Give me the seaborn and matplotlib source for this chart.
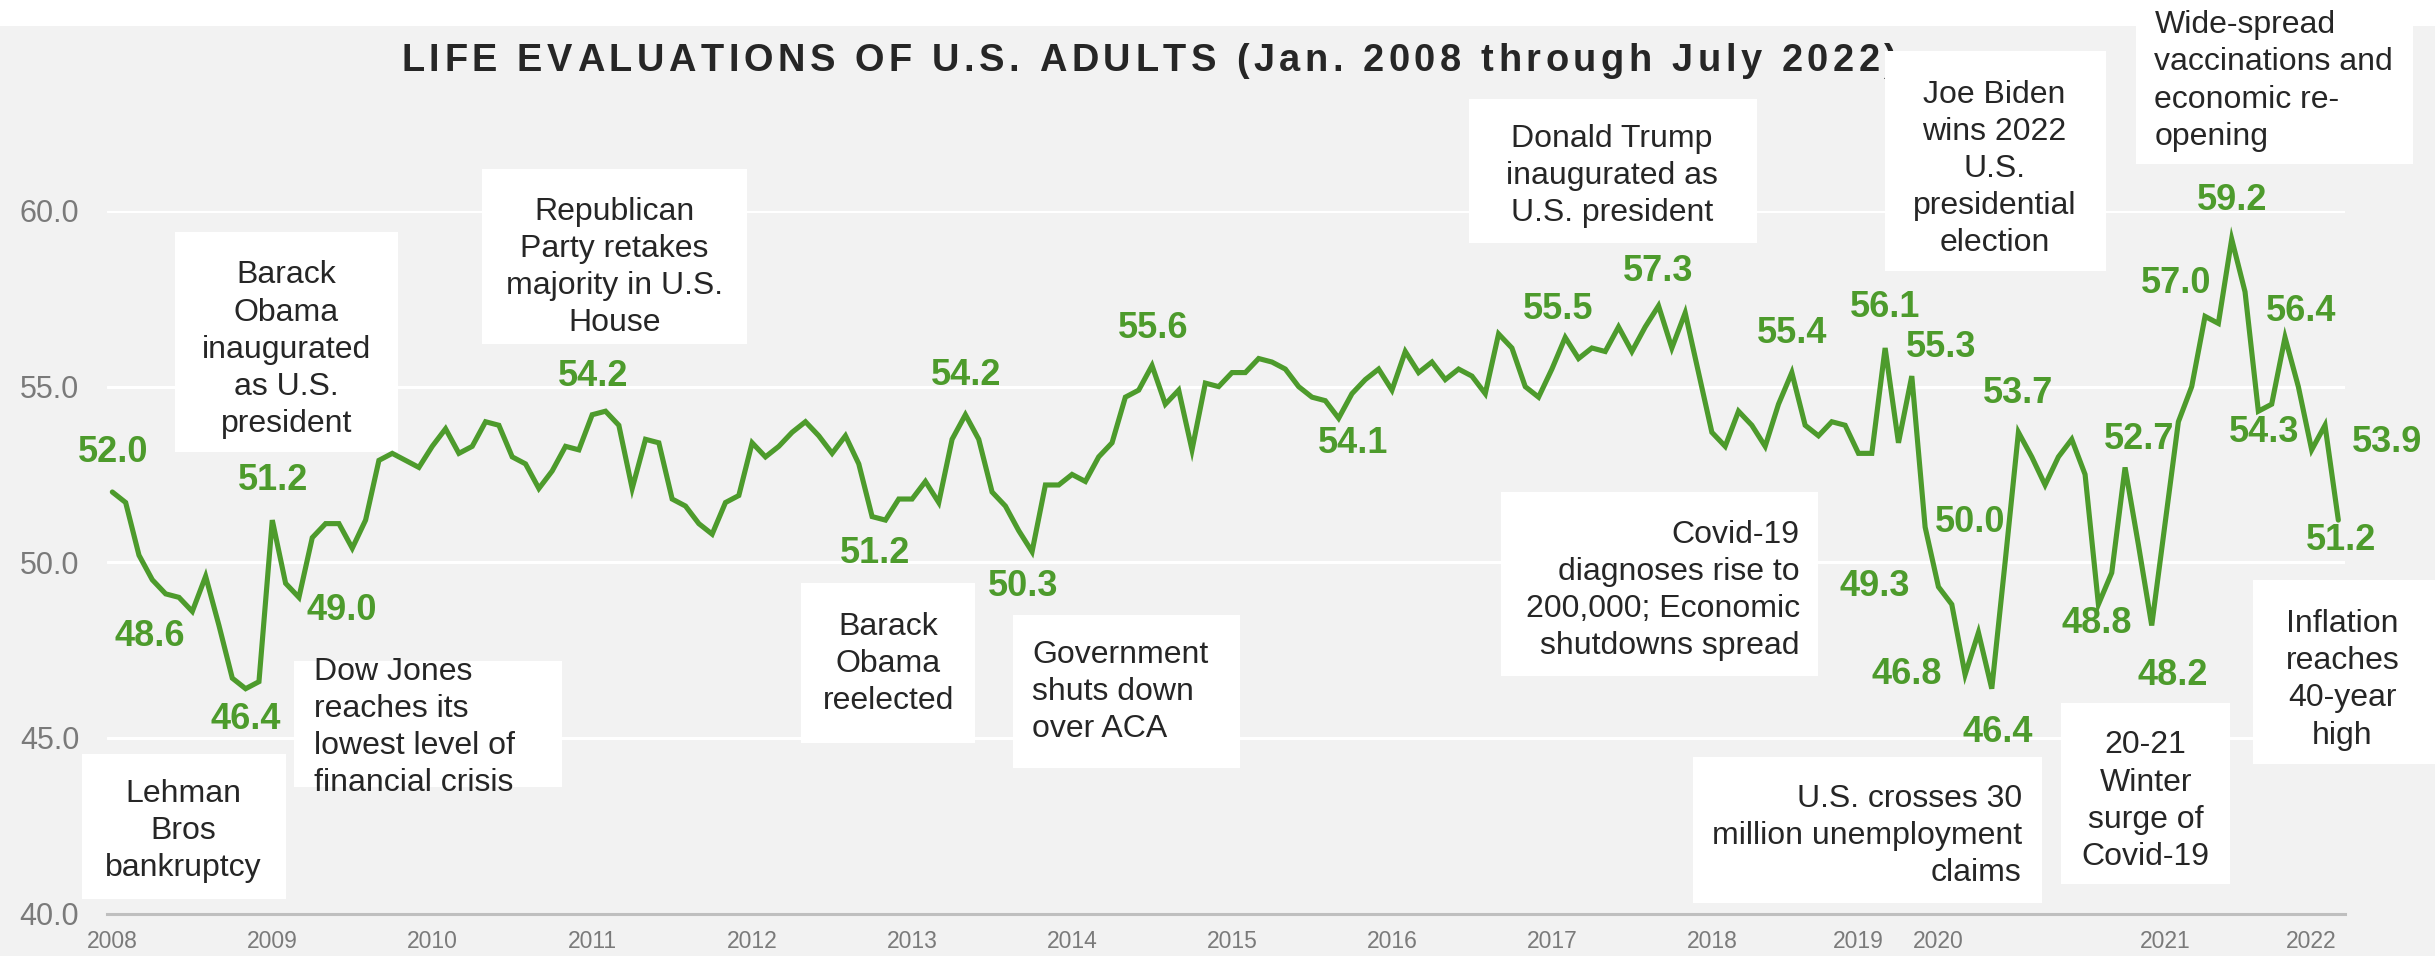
import numpy as np
import pandas as pd
import matplotlib
matplotlib.use("Agg")
import matplotlib.pyplot as plt
from matplotlib.patches import Rectangle
from matplotlib.transforms import IdentityTransform
import seaborn as sns

# Monthly index scores, 2008-2018
scores_2008 = [52.0, 51.7, 50.2, 49.5, 49.1, 49.0, 48.6, 49.6, 48.2, 46.7, 46.4, 46.6]
scores_2009 = [51.2, 49.4, 49.0, 50.7, 51.1, 51.1, 50.4, 51.2, 52.9, 53.1, 52.9, 52.7]
scores_2010 = [53.3, 53.8, 53.1, 53.3, 54.0, 53.9, 53.0, 52.8, 52.1, 52.6, 53.3, 53.2]
scores_2011 = [54.2, 54.3, 53.9, 52.1, 53.5, 53.4, 51.8, 51.6, 51.1, 50.8, 51.7, 51.9]
scores_2012 = [53.4, 53.0, 53.3, 53.7, 54.0, 53.6, 53.1, 53.6, 52.8, 51.3, 51.2, 51.8]
scores_2013 = [51.8, 52.3, 51.7, 53.5, 54.2, 53.5, 52.0, 51.6, 50.9, 50.3, 52.2, 52.2]
scores_2014 = [52.5, 52.3, 53.0, 53.4, 54.7, 54.9, 55.6, 54.5, 54.9, 53.2, 55.1, 55.0]
scores_2015 = [55.4, 55.4, 55.8, 55.7, 55.5, 55.0, 54.7, 54.6, 54.1, 54.8, 55.2, 55.5]
scores_2016 = [54.9, 56.0, 55.4, 55.7, 55.2, 55.5, 55.3, 54.8, 56.5, 56.1, 55.0, 54.7]
scores_2017 = [55.5, 56.4, 55.8, 56.1, 56.0, 56.7, 56.0, 56.7, 57.3, 56.1, 57.1, 55.4]
scores_2018 = [53.7, 53.3, 54.3, 53.9, 53.3, 54.5, 55.4, 53.9, 53.6, 54.0, 53.9, 53.1]
# Survey waves, 2019 through July 2022
scores_2019_2022 = [53.1, 56.1, 53.4, 55.3, 51.0, 49.3, 48.8, 46.8, 48.0, 46.4,
                    50.0, 53.7, 53.0, 52.2, 53.0, 53.5, 52.5, 48.8, 49.7, 52.7,
                    50.5, 48.2, 51.1, 54.0, 55.0, 57.0, 56.8, 59.2, 57.7, 54.3,
                    54.5, 56.4, 55.0, 53.2, 53.9, 51.2]

year_labels = ["2008", "2009", "2010", "2011", "2012", "2013", "2014", "2015",
               "2016", "2017", "2018", "2019", "2020", "2021", "2022"]
year_positions = [0, 12, 24, 36, 48, 60, 72, 84, 96, 108, 120, 131, 137, 154, 165]

# Observations that carry a value label
labelled_points = [0, 6, 10, 12, 14, 36, 58, 64, 69, 78, 92, 108, 116, 126, 133, 135,
                   137, 139, 141, 142, 143, 149, 151, 153, 157, 159, 161, 163, 166, 167]

event_notes = [
    "Lehman\nBros\nbankruptcy",
    "Barack\nObama\ninaugurated\nas U.S.\npresident",
    "Dow Jones\nreaches its\nlowest level of\nfinancial crisis",
    "Republican\nParty retakes\nmajority in U.S.\nHouse",
    "Barack\nObama\nreelected",
    "Government\nshuts down\nover ACA",
    "Donald Trump\ninaugurated as\nU.S. president",
    "Covid-19\ndiagnoses rise to\n200,000; Economic\nshutdowns spread",
    "Joe Biden\nwins 2022\nU.S.\npresidential\nelection",
    "U.S. crosses 30\nmillion unemployment\nclaims",
    "20-21\nWinter\nsurge of\nCovid-19",
    "Wide-spread\nvaccinations and\neconomic re-\nopening",
    "Inflation\nreaches\n40-year\nhigh",
]

title_text = "LIFE EVALUATIONS OF U.S. ADULTS (Jan. 2008 through July 2022)"

# ---------------------------------------------------------------- layout
# value-label offsets in pixels (dx right, dy down), same order as labelled_points
label_offsets = [(1, -39), (-43, 25), (0, 31), (1, -40), (43, 13), (1, -38), (-10, 33),
                 (1, -39), (-9, 35), (1, -37), (14, 25), (6, -60), (0, -34), (0, -39),
                 (0, -40), (29, -29), (-64, 0), (-58, 0), (6, 44), (-35, -40), (0, -39),
                 (-2, 19), (14, -28), (21, 50), (-29, -33), (0, -39), (6, 21), (16, -26),
                 (62, 17), (3, 20)]

# note boxes: (x0, x1, y0, y1) in data units, text anchor (x, y), alignment
note_layout = [
    ((-2.25, 13.0, 40.4, 44.55), (5.3, 42.35), "center"),
    ((4.7, 21.4, 53.15, 59.4), (13.05, 56.05), "center"),
    ((13.65, 33.7, 43.6, 47.2), (15.15, 45.3), "left"),
    ((27.7, 47.6, 56.2, 61.2), (37.65, 58.4), "center"),
    ((51.7, 64.75, 44.85, 49.4), (58.2, 47.1), "center"),
    ((67.6, 84.6, 44.15, 48.5), (69.0, 46.3), "left"),
    ((101.8, 123.4, 59.1, 63.2), (112.5, 61.0), "center"),
    ((104.2, 128.0, 46.75, 52.0), (126.6, 49.2), "right"),
    ((133.0, 149.6, 58.3, 64.55), (141.2, 61.2), "center"),
    ((118.6, 144.8, 40.3, 44.45), (143.25, 42.2), "right"),
    ((146.2, 158.9, 40.85, 46.0), (152.55, 43.2), "center"),
    ((151.8, 172.6, 61.35, 66.2), (153.2, 63.7), "left"),
    ((160.6, 174.3, 44.25, 49.5), (167.3, 46.65), "center"),
]

GREEN = "#4d9b2c"
BG = "#f2f2f2"
TEXT = "#262626"
AXIS_GRAY = "#7a7a7a"

W, H, DPI = 2435, 956, 100

sns.set_theme(style="white")
plt.rcParams["font.family"] = ["Liberation Sans", "DejaVu Sans"]

scores = (scores_2008 + scores_2009 + scores_2010 + scores_2011 + scores_2012 +
          scores_2013 + scores_2014 + scores_2015 + scores_2016 + scores_2017 +
          scores_2018 + scores_2019_2022)
df = pd.DataFrame({"obs": np.arange(len(scores)), "score": scores})

fig = plt.figure(figsize=(W / DPI, H / DPI), dpi=DPI, facecolor="white")
fig.patches.append(Rectangle((0, 0), 1, 1 - 26 / H, transform=fig.transFigure,
                             facecolor=BG, edgecolor="none", zorder=-10))

ax = fig.add_axes([107 / W, (H - 913.5) / H, (2345 - 107) / W, (913.5 - 211) / H])
ax.set_facecolor("none")

sns.lineplot(data=df, x="obs", y="score", ax=ax, color=GREEN, linewidth=3.7,
             zorder=4, solid_joinstyle="miter")

ax.set_xlim(-0.4, 167.5)
ax.set_ylim(40, 60)
ax.set_yticks([40, 45, 50, 55, 60])
ax.set_yticklabels([f"{v:.1f}" for v in [40, 45, 50, 55, 60]])
ax.set_xticks(year_positions)
ax.set_xticklabels(year_labels)
ax.set_xlabel("")
ax.set_ylabel("")

for v in [45, 50, 55, 60]:
    ax.axhline(v, color="white", linewidth=2.2, zorder=1)

for side in ["top", "right", "left"]:
    ax.spines[side].set_visible(False)
ax.spines["bottom"].set_color("#bfbfbf")
ax.spines["bottom"].set_linewidth(2.2)

ax.tick_params(axis="y", length=0, pad=20, labelsize=22, labelcolor=AXIS_GRAY)
ax.tick_params(axis="x", length=0, pad=12, labelsize=16.5, labelcolor=AXIS_GRAY)

# event notes
for text, (box, (tx, ty), ha) in zip(event_notes, note_layout):
    x0, x1, y0, y1 = box
    ax.add_patch(Rectangle((x0, y0), x1 - x0, y1 - y0, facecolor="white",
                           edgecolor="none", zorder=3, clip_on=False))
    ax.text(tx, ty, text, ha=ha, va="center", multialignment=ha, fontsize=23,
            color=TEXT, zorder=5, linespacing=1.31, clip_on=False)

# value labels
for i, (dx, dy) in zip(labelled_points, label_offsets):
    ax.annotate(f"{scores[i]:.1f}", xy=(i, scores[i]), xytext=(dx * 0.72, -dy * 0.72),
                textcoords="offset points", ha="center", va="center",
                fontsize=26, fontweight="bold", color=GREEN, zorder=6,
                annotation_clip=False)

# letter-spaced title, drawn under the note boxes
renderer = fig.canvas.get_renderer()
title_size = 27.4


def text_width(s):
    t = ax.text(0, 0, s, fontsize=title_size, fontweight="bold",
                transform=IdentityTransform())
    w = t.get_window_extent(renderer=renderer).width
    t.remove()
    return w


bar_w = text_width("||")
advances = [text_width("|" + c + "|") - bar_w for c in title_text]
spacing = 4.6
total = sum(advances) + spacing * (len(title_text) - 1)
x = 1149 - total / 2
baseline = H - 71
for c, a in zip(title_text, advances):
    ax.text(x, baseline, c, fontsize=title_size, fontweight="bold", color=TEXT,
            ha="left", va="baseline", transform=IdentityTransform(), zorder=2)
    x += a + spacing

fig.savefig("out.png", dpi=DPI, facecolor="white")
